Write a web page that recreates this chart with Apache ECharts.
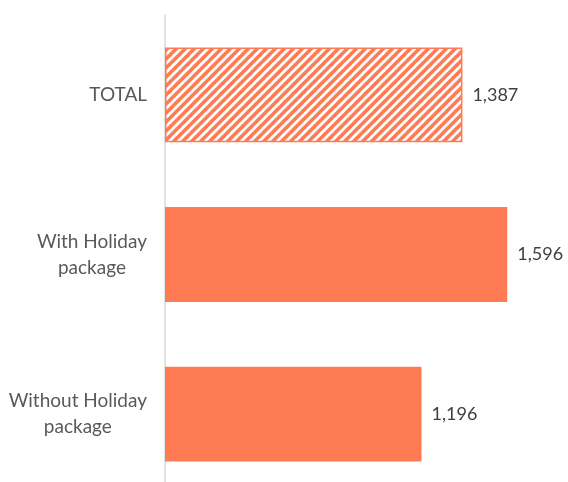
<!DOCTYPE html>
<html>
<head>
<meta charset="utf-8">
<script src="https://cdn.jsdelivr.net/npm/echarts@6/dist/echarts.min.js"></script>
<style>html,body{margin:0;padding:0;background:#fff;}#c{width:568px;height:482px;}</style>
</head>
<body>
<div id="c"></div>
<script>
const categories = ['TOTAL', 'With Holiday\npackage', 'Without Holiday\npackage'];
const values = [1387, 1596, 1196];
const patternedIndex = [0];

const ORANGE = '#FF7B53';
function stripePattern() {
  const n = 9;
  const cv = document.createElement('canvas');
  cv.width = n; cv.height = n;
  const ctx = cv.getContext('2d');
  ctx.fillStyle = '#ffffff';
  ctx.fillRect(0, 0, n, n);
  ctx.strokeStyle = ORANGE;
  ctx.lineWidth = 3.6;
  for (const off of [-n, 0, n]) {
    ctx.beginPath();
    ctx.moveTo(off - 1, n + 1);
    ctx.lineTo(off + n + 1, -1);
    ctx.stroke();
  }
  return cv;
}
const pat = { image: stripePattern(), repeat: 'repeat' };

const chart = echarts.init(document.getElementById('c'), null, { renderer: 'canvas' });
const FONT = 'Lato';
chart.setOption({
  animation: false,
  backgroundColor: '#ffffff',
  grid: { left: 165, top: 15, width: 386, height: 479, containLabel: false, outerBoundsMode: 'none' },
  xAxis: {
    type: 'value', min: 0, max: 1800,
    show: false
  },
  yAxis: {
    type: 'category', inverse: true, data: categories,
    axisLine: { show: true, lineStyle: { color: '#D9D9D9', width: 1.5 } },
    axisTick: { show: false },
    axisLabel: {
      margin: 18,
      color: '#595959', fontFamily: FONT, fontSize: 19, lineHeight: 26,
      formatter: v => v.split('\n').map(s => '{c|' + s + '}').join('\n'),
      rich: { c: { align: 'center', color: '#595959', fontFamily: FONT, fontSize: 19, lineHeight: 26 } }
    }
  },
  series: [{
    type: 'bar',
    barWidth: '59.4%',
    data: values.map((v, i) => patternedIndex.includes(i)
      ? { value: v, itemStyle: { color: pat, borderColor: ORANGE, borderWidth: 1.5 } }
      : { value: v, itemStyle: { color: ORANGE } }),
    label: {
      show: true, position: 'right', distance: 10,
      color: '#404040', fontFamily: FONT, fontSize: 18,
      formatter: p => p.value.toLocaleString('en-US')
    }
  }]
});
</script>
</body>
</html>
